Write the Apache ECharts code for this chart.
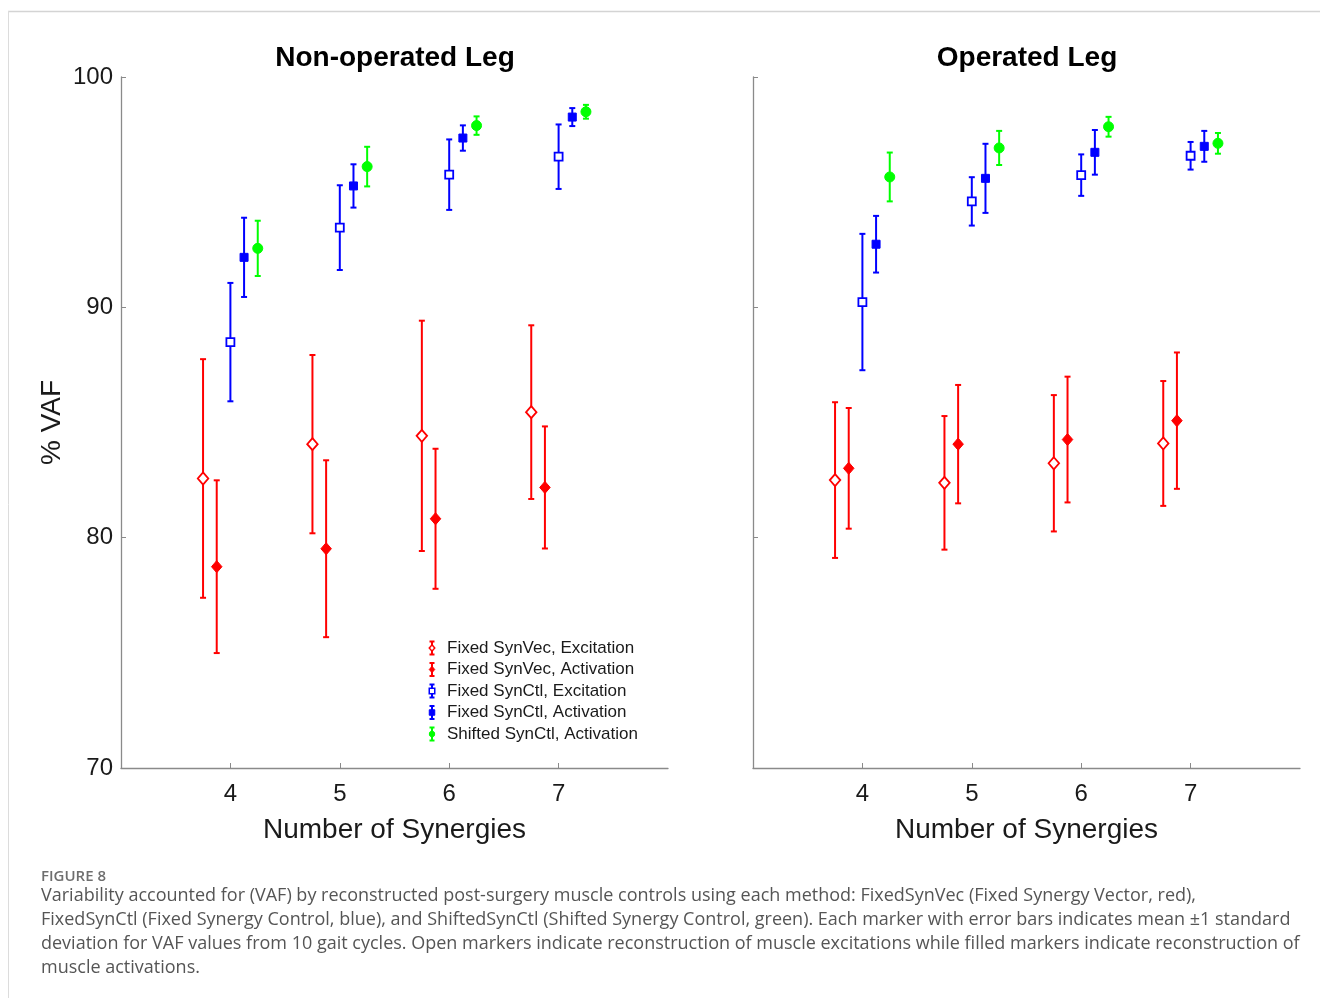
<!DOCTYPE html>
<html>
<head>
<meta charset="utf-8">
<title>VAF by reconstruction method</title>
<script src="https://cdn.jsdelivr.net/npm/echarts@6/dist/echarts.min.js"></script>
<style>
  html, body { margin: 0; padding: 0; background: #fff; }
  #chart { width: 1320px; height: 998px; }
</style>
</head>
<body>
<div id="chart"></div>
<script>
// Number of synergies on the x axis
const synergies = [4, 5, 6, 7];
const xTickValues = [4, 5, 6, 7];
const yTickValues = [70, 80, 90, 100];

// Non-operated leg: mean VAF (%) and standard deviation over 10 gait cycles
const nonOpSynVecExcMean = [82.57, 84.06, 84.42, 85.45];
const nonOpSynVecExcSd   = [5.18, 3.87, 5.00, 3.77];
const nonOpSynVecActMean = [78.74, 79.52, 80.82, 82.18];
const nonOpSynVecActSd   = [3.75, 3.84, 3.04, 2.65];
const nonOpSynCtlExcMean = [88.49, 93.46, 95.76, 96.54];
const nonOpSynCtlExcSd   = [2.57, 1.84, 1.53, 1.40];
const nonOpSynCtlActMean = [92.17, 95.27, 97.35, 98.26];
const nonOpSynCtlActSd   = [1.72, 0.94, 0.55, 0.39];
const nonOpShiftedActMean = [92.56, 96.11, 97.89, 98.49];
const nonOpShiftedActSd   = [1.20, 0.86, 0.40, 0.30];

// Operated leg
const opSynVecExcMean = [82.50, 82.38, 83.23, 84.09];
const opSynVecExcSd   = [3.38, 2.90, 2.96, 2.71];
const opSynVecActMean = [83.01, 84.06, 84.26, 85.08];
const opSynVecActSd   = [2.62, 2.57, 2.73, 2.96];
const opSynCtlExcMean = [90.23, 94.60, 95.74, 96.58];
const opSynCtlExcSd   = [2.96, 1.05, 0.90, 0.60];
const opSynCtlActMean = [92.74, 95.60, 96.73, 96.99];
const opSynCtlActSd   = [1.23, 1.50, 0.97, 0.67];
const opShiftedActMean = [95.66, 96.92, 97.84, 97.12];
const opShiftedActSd   = [1.06, 0.74, 0.43, 0.45];

const panelTitles = ['Non-operated Leg', 'Operated Leg'];
const xAxisTitle = 'Number of Synergies';
const yAxisTitle = '% VAF';

const captionLabel = 'FIGURE 8';
const captionLines = [
  'Variability accounted for (VAF) by reconstructed post-surgery muscle controls using each method: FixedSynVec (Fixed Synergy Vector, red),',
  'FixedSynCtl (Fixed Synergy Control, blue), and ShiftedSynCtl (Shifted Synergy Control, green). Each marker with error bars indicates mean \u00b11 standard',
  'deviation for VAF values from 10 gait cycles. Open markers indicate reconstruction of muscle excitations while filled markers indicate reconstruction of',
  'muscle activations.'
];

// Method styling: colour, marker shape, open/filled, horizontal dodge within a synergy group
const methods = [
  { name: 'Fixed SynVec, Excitation',   color: '#ff0000', shape: 'diamond', open: true,  dodge: -0.25 },
  { name: 'Fixed SynVec, Activation',   color: '#ff0000', shape: 'diamond', open: false, dodge: -0.125 },
  { name: 'Fixed SynCtl, Excitation',   color: '#0000ff', shape: 'square',  open: true,  dodge: 0 },
  { name: 'Fixed SynCtl, Activation',   color: '#0000ff', shape: 'square',  open: false, dodge: 0.125 },
  { name: 'Shifted SynCtl, Activation', color: '#00ff00', shape: 'circle',  open: false, dodge: 0.25 }
];

const panels = [
  [
    [nonOpSynVecExcMean, nonOpSynVecExcSd],
    [nonOpSynVecActMean, nonOpSynVecActSd],
    [nonOpSynCtlExcMean, nonOpSynCtlExcSd],
    [nonOpSynCtlActMean, nonOpSynCtlActSd],
    [nonOpShiftedActMean, nonOpShiftedActSd]
  ],
  [
    [opSynVecExcMean, opSynVecExcSd],
    [opSynVecActMean, opSynVecActSd],
    [opSynCtlExcMean, opSynCtlExcSd],
    [opSynCtlActMean, opSynCtlActSd],
    [opShiftedActMean, opShiftedActSd]
  ]
];

const AXIS_COLOR = '#8a8a8a';
const TEXT_COLOR = '#1a1a1a';
const FONT = '"Liberation Sans", Arial, sans-serif';

// Marker shape builder shared by plot and legend
function markerShape(shape, cx, cy, size) {
  const h = size / 2;
  if (shape === 'diamond') {
    return { type: 'polygon', shape: { points: [[cx, cy - h * 1.15], [cx + h, cy], [cx, cy + h * 1.15], [cx - h, cy]] } };
  }
  if (shape === 'square') {
    return { type: 'rect', shape: { x: cx - h, y: cy - h, width: size, height: size } };
  }
  return { type: 'circle', shape: { cx: cx, cy: cy, r: h } };
}

const markerSizes = { diamond: 10.5, square: 8, circle: 10 };

function errorBarRenderer(method) {
  return function (params, api) {
    const x = api.value(0);
    const mean = api.value(1);
    const sd = api.value(2);
    const c = api.coord([x, mean]);
    const top = api.coord([x, mean + sd]);
    const bot = api.coord([x, mean - sd]);
    const cap = 3;
    const lineStyle = { stroke: method.color, lineWidth: 2 };
    const marker = markerShape(method.shape, c[0], c[1], markerSizes[method.shape]);
    marker.style = method.open
      ? { fill: '#ffffff', stroke: method.color, lineWidth: 1.8 }
      : { fill: method.color, stroke: method.color, lineWidth: 1 };
    return {
      type: 'group',
      children: [
        { type: 'line', shape: { x1: top[0], y1: top[1], x2: bot[0], y2: bot[1] }, style: lineStyle },
        { type: 'line', shape: { x1: top[0] - cap, y1: top[1], x2: top[0] + cap, y2: top[1] }, style: lineStyle },
        { type: 'line', shape: { x1: bot[0] - cap, y1: bot[1], x2: bot[0] + cap, y2: bot[1] }, style: lineStyle },
        marker
      ]
    };
  };
}

const gridBoxes = [
  { left: 121, top: 77, width: 547, height: 691 },
  { left: 753, top: 77, width: 547, height: 691 }
];

const grids = gridBoxes.map(g => Object.assign({ containLabel: false }, g));

const xAxes = gridBoxes.map((g, i) => ({
  type: 'value',
  gridIndex: i,
  min: 3,
  max: 8,
  interval: 1,
  name: xAxisTitle,
  nameLocation: 'middle',
  nameGap: 48,
  nameTextStyle: { fontFamily: FONT, fontSize: 28, color: TEXT_COLOR },
  axisLine: { show: true, onZero: false, lineStyle: { color: AXIS_COLOR, width: 1.3 } },
  axisTick: { show: true, inside: true, length: 5, customValues: xTickValues, lineStyle: { color: AXIS_COLOR, width: 1 } },
  axisLabel: { show: true, customValues: xTickValues, margin: 14, fontFamily: FONT, fontSize: 24, color: TEXT_COLOR },
  splitLine: { show: false }
}));

const yAxes = gridBoxes.map((g, i) => ({
  type: 'value',
  gridIndex: i,
  min: 70,
  max: 100,
  interval: 10,
  name: i === 0 ? yAxisTitle : '',
  nameLocation: 'middle',
  nameGap: 55,
  nameTextStyle: { fontFamily: FONT, fontSize: 28, color: TEXT_COLOR },
  axisLine: { show: true, onZero: false, lineStyle: { color: AXIS_COLOR, width: 1.3 } },
  axisTick: { show: true, inside: true, length: 5, customValues: yTickValues, lineStyle: { color: AXIS_COLOR, width: 1 } },
  axisLabel: { show: i === 0, customValues: yTickValues, margin: 8, fontFamily: FONT, fontSize: 24, color: TEXT_COLOR },
  splitLine: { show: false }
}));

const series = [];
panels.forEach((panel, p) => {
  panel.forEach(([means, sds], m) => {
    const method = methods[m];
    series.push({
      type: 'custom',
      name: method.name,
      xAxisIndex: p,
      yAxisIndex: p,
      encode: { x: 0, y: 1 },
      clip: false,
      renderItem: errorBarRenderer(method),
      data: synergies.map((s, k) => [s + method.dodge, means[k], sds[k]])
    });
  });
});

// Legend drawn inside the left panel
const legendX = 432, legendTextX = 447, legendY0 = 648, legendStep = 21.5;
const legendChildren = [];
methods.forEach((method, i) => {
  const y = legendY0 + i * legendStep;
  const ls = { stroke: method.color, lineWidth: 2 };
  legendChildren.push({ type: 'line', shape: { x1: legendX, y1: y - 6.5, x2: legendX, y2: y + 6.5 }, style: ls });
  legendChildren.push({ type: 'line', shape: { x1: legendX - 2.5, y1: y - 6.5, x2: legendX + 2.5, y2: y - 6.5 }, style: ls });
  legendChildren.push({ type: 'line', shape: { x1: legendX - 2.5, y1: y + 6.5, x2: legendX + 2.5, y2: y + 6.5 }, style: ls });
  const mk = markerShape(method.shape, legendX, y, 5.5);
  mk.style = method.open
    ? { fill: '#ffffff', stroke: method.color, lineWidth: 1.5 }
    : { fill: method.color, stroke: method.color, lineWidth: 1 };
  legendChildren.push(mk);
  legendChildren.push({
    type: 'text',
    style: { x: legendTextX, y: y, text: method.name, fill: TEXT_COLOR, font: '17px ' + FONT, verticalAlign: 'middle', align: 'left' }
  });
});

// Caption block and page frame
const captionChildren = [
  { type: 'text', style: { x: 41, y: 877, text: captionLabel, fill: '#6e6e6e', font: '600 15px "Open Sans", sans-serif', verticalAlign: 'middle' } }
];
captionLines.forEach((line, i) => {
  captionChildren.push({
    type: 'text',
    style: { x: 41, y: 896 + i * 24, text: line, fill: '#555555', font: '18px "Open Sans", sans-serif', verticalAlign: 'middle' }
  });
});

const frame = [
  { type: 'line', shape: { x1: 8, y1: 11.5, x2: 1320, y2: 11.5 }, style: { stroke: '#d4d4d4', lineWidth: 1.5 } },
  { type: 'line', shape: { x1: 8.5, y1: 11, x2: 8.5, y2: 998 }, style: { stroke: '#dcdcdc', lineWidth: 1 } }
];

const chart = echarts.init(document.getElementById('chart'), null, { renderer: 'canvas' });
chart.setOption({
  backgroundColor: '#ffffff',
  animation: false,
  title: [
    { text: panelTitles[0], left: 390, top: 39, textAlign: 'center', textStyle: { fontFamily: FONT, fontSize: 28, fontWeight: 'bold', color: '#000' } },
    { text: panelTitles[1], left: 1022, top: 39, textAlign: 'center', textStyle: { fontFamily: FONT, fontSize: 28, fontWeight: 'bold', color: '#000' } }
  ],
  grid: grids,
  xAxis: xAxes,
  yAxis: yAxes,
  series: series,
  graphic: [
    { type: 'group', children: frame },
    { type: 'group', children: legendChildren },
    { type: 'group', children: captionChildren }
  ]
});
</script>
</body>
</html>
